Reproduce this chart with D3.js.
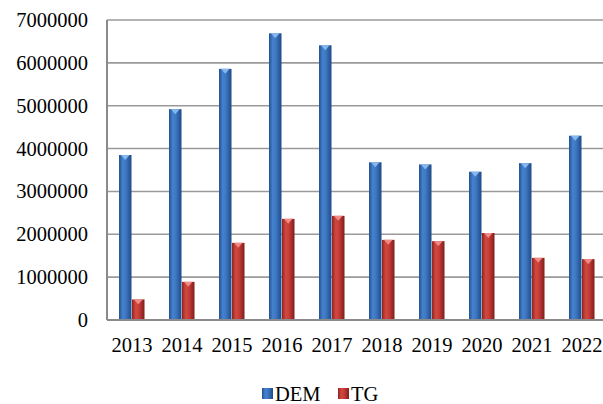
<!DOCTYPE html>
<html><head><meta charset="utf-8">
<script src="https://cdn.jsdelivr.net/npm/d3@7"></script>
<style>body{margin:0;background:#fff}svg{display:block}text{font-family:"Liberation Serif","Times New Roman",serif}</style>
</head><body><svg id="c" width="603" height="404"></svg>
<script>
const years = ["2013","2014","2015","2016","2017","2018","2019","2020","2021","2022"];
const dem = [3850000,4920000,5860000,6690000,6410000,3680000,3630000,3460000,3660000,4300000];
const tg = [480000,890000,1800000,2360000,2430000,1870000,1840000,2030000,1450000,1420000];
const seriesNames = ["DEM","TG"];
const yTicks = [0,1000000,2000000,3000000,4000000,5000000,6000000,7000000];

const FS = 20.5;
const svg = d3.select("#c");
const m = {l:107, t:20, r:607, b:320};
const x = d3.scaleBand().domain(years).range([m.l, m.r]).paddingInner(0).paddingOuter(0);
const y = d3.scaleLinear().domain([0,7000000]).range([m.b, m.t]);
const x1 = d3.scaleBand().domain(seriesNames).range([0, 26]);

const defs = svg.append("defs");
function grad(id, stops){
  const g = defs.append("linearGradient").attr("id",id).attr("x1","0").attr("x2","1").attr("y1","0").attr("y2","0");
  stops.forEach(s=>g.append("stop").attr("offset",s[0]).attr("stop-color",s[1]));
}
grad("gB",[[0,"#23518f"],[0.3,"#4582cf"],[0.55,"#3d77c2"],[1,"#1f4a86"]]);
grad("gR",[[0,"#8e2421"],[0.3,"#d2493f"],[0.55,"#c83d38"],[1,"#7e1e1b"]]);
const fills = {DEM:"url(#gB)", TG:"url(#gR)"};
const caps = {DEM:"#86b8ee", TG:"#f08a84"};

// gridlines
svg.append("g").selectAll("line").data(yTicks.filter(d=>d>0)).join("line")
  .attr("x1",m.l).attr("x2",603).attr("y1",d=>y(d)).attr("y2",d=>y(d))
  .attr("stroke","#9a9a9a").attr("stroke-width",1.6);

// y axis
const ya = svg.append("g").attr("transform",`translate(${m.l},0)`)
  .call(d3.axisLeft(y).tickValues(yTicks).tickFormat(d3.format("d")).tickSize(0).tickPadding(19));
ya.select(".domain").remove();
ya.selectAll("text").attr("font-size",FS).attr("fill","#000").attr("font-family","Liberation Serif");
svg.append("line").attr("x1",m.l).attr("x2",m.l).attr("y1",m.t).attr("y2",m.b).attr("stroke","#8a8a8a").attr("stroke-width",2);

// bars
const data = years.map((yr,i)=>({yr, vals:[{k:"DEM",v:dem[i]},{k:"TG",v:tg[i]}]}));
const grp = svg.append("g").selectAll("g").data(data).join("g")
  .attr("transform",d=>`translate(${x(d.yr)+x.bandwidth()/2-13},0)`);
const bar = grp.selectAll("g").data(d=>d.vals).join("g");
bar.append("rect").attr("x",d=>x1(d.k)).attr("width",x1.bandwidth()-0.5)
  .attr("y",d=>y(d.v)).attr("height",d=>y(0)-y(d.v)).attr("fill",d=>fills[d.k]);
bar.append("path").attr("d",d=>{
  const x0=x1(d.k), w=x1.bandwidth()-0.5, t=y(d.v);
  return `M${x0+2},${t}L${x0+w-2},${t}L${x0+w/2},${t+5}Z`;
}).attr("fill",d=>caps[d.k]);

// x axis line
svg.append("line").attr("x1",m.l).attr("x2",603).attr("y1",m.b).attr("y2",m.b).attr("stroke","#8a8a8a").attr("stroke-width",2);
const xa = svg.append("g").attr("transform",`translate(0,${m.b})`)
  .call(d3.axisBottom(x).tickSize(0).tickPadding(17.7));
xa.select(".domain").remove();
xa.selectAll("text").attr("font-size",FS).attr("fill","#000").attr("font-family","Liberation Serif");

// legend
const lg = svg.append("g");
const lx = [262, 338];
seriesNames.forEach((s,i)=>{
  lg.append("rect").attr("x",lx[i]).attr("y",388).attr("width",11).attr("height",11).attr("fill",fills[s]);
  lg.append("text").attr("x",lx[i]+13).attr("y",400.5).attr("font-size",FS)
    .attr("font-family","Liberation Serif").attr("fill","#000").text(s);
});
</script></body></html>
